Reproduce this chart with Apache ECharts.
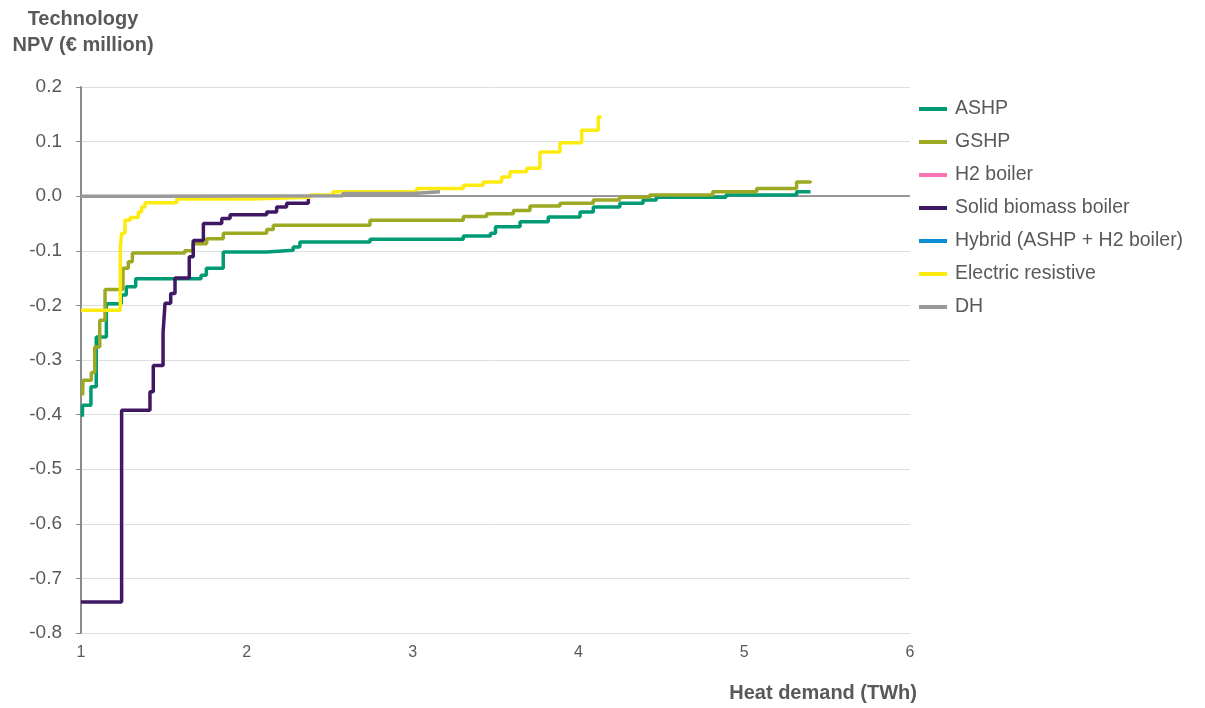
<!DOCTYPE html>
<html>
<head>
<meta charset="utf-8">
<script src="https://cdn.jsdelivr.net/npm/echarts@6/dist/echarts.min.js"></script>
<style>
  html, body { margin: 0; padding: 0; background: #fff; }
  #npvChart { width: 1205px; height: 708px; }
</style>
</head>
<body>
<div id="npvChart"></div>
<script>
  // step curves: [heat demand TWh, NPV € million]
  var ashp = [
    [1.008, -0.404], [1.01, -0.383], [1.06, -0.349], [1.092, -0.258], [1.153, -0.197],
    [1.243, -0.181], [1.273, -0.166], [1.33, -0.151], [1.724, -0.145], [1.756, -0.132],
    [1.858, -0.102], [2.12, -0.099], [2.28, -0.093], [2.32, -0.084], [2.743, -0.079],
    [3.306, -0.073], [3.47, -0.068], [3.5, -0.056], [3.648, -0.047], [3.818, -0.038],
    [4.01, -0.029], [4.09, -0.02], [4.25, -0.013], [4.39, -0.007], [4.47, -0.002],
    [4.89, 0.002], [5.316, 0.008], [5.4, 0.008]
  ]
  var gshp = [
    [1.01, -0.365], [1.012, -0.337], [1.062, -0.323], [1.083, -0.276], [1.113, -0.227],
    [1.145, -0.171], [1.253, -0.132], [1.285, -0.12], [1.31, -0.104], [1.625, -0.1],
    [1.675, -0.087], [1.758, -0.078], [1.858, -0.068], [2.12, -0.061], [2.16, -0.053],
    [2.743, -0.044], [3.306, -0.037], [3.447, -0.032], [3.608, -0.026], [3.708, -0.018],
    [3.889, -0.013], [4.09, -0.007], [4.248, -0.002], [4.43, 0.002], [4.81, 0.008],
    [5.075, 0.014], [5.316, 0.026], [5.4, 0.028]
  ]
  var h2Boiler = []
  var biomass = [
    [1.0, -0.743], [1.245, -0.392], [1.416, -0.358], [1.436, -0.31], [1.495, -0.25],
    [1.507, -0.196], [1.541, -0.178], [1.567, -0.15], [1.653, -0.111], [1.677, -0.081],
    [1.738, -0.05], [1.849, -0.041], [1.899, -0.034], [2.12, -0.029], [2.18, -0.02],
    [2.24, -0.013], [2.371, -0.006], [2.381, -0.006]
  ]
  var hybrid = []
  var electric = [
    [1.0, -0.209], [1.237, -0.093], [1.245, -0.068], [1.265, -0.044], [1.296, -0.039],
    [1.346, -0.029], [1.366, -0.02], [1.386, -0.012], [1.577, -0.005], [2.019, -0.002],
    [2.381, 0.002], [2.52, 0.008], [3.025, 0.014], [3.306, 0.02], [3.426, 0.026],
    [3.537, 0.035], [3.587, 0.045], [3.688, 0.051], [3.768, 0.081], [3.889, 0.098],
    [4.02, 0.121], [4.12, 0.145], [4.14, 0.145]
  ]
  var dh = [
    [1.0, 0.0], [1.43, 0.001], [2.58, 0.005], [3.0, 0.008], [3.165, 0.008]
  ]

  var names = ['ASHP', 'GSHP', 'H2 boiler', 'Solid biomass boiler', 'Hybrid (ASHP + H2 boiler)', 'Electric resistive', 'DH']
  var colors = ['#009A74', '#9DA823', '#F873B3', '#401763', '#0A8FD4', '#FDEB0F', '#999999']
  var seriesData = [ashp, gshp, h2Boiler, biomass, hybrid, electric, dh]

  var textColor = '#595959'
  var font = 'Liberation Sans, Arial, sans-serif'

  var chart = echarts.init(document.getElementById('npvChart'))

  var series = []
  for (let i = 0; i < names.length; i++) {
    let s = {
      name: names[i],
      type: 'line',
      step: 'end',
      showSymbol: false,
      symbol: 'none',
      color: colors[i],
      lineStyle: { width: 3.5, color: colors[i] },
      data: seriesData[i]
    }
    if (names[i] === 'DH') {
      // horizontal line at NPV = 0
      s.markLine = {
        silent: true,
        symbol: 'none',
        label: { show: false },
        lineStyle: { color: '#7a7a7a', width: 1.5, type: 'solid' },
        data: [{ yAxis: 0 }],
        z: 1
      }
    }
    series.push(s)
  }

  var option = {
    animation: false,
    textStyle: { fontFamily: font },
    title: [{
      text: 'Technology\nNPV (€ million)',
      left: 78,
      top: 1,
      textAlign: 'center',
      textStyle: { fontSize: 20, fontWeight: 'bold', color: textColor, lineHeight: 26, fontFamily: font }
    }, {
      text: 'Heat demand (TWh)',
      right: 283,
      top: 678,
      textStyle: { fontSize: 20, fontWeight: 'bold', color: textColor, fontFamily: font }
    }],
    legend: {
      orient: 'vertical',
      left: 914,
      top: 94,
      itemGap: 13,
      icon: 'rect',
      itemWidth: 28,
      itemHeight: 4,
      textStyle: { fontSize: 19.5, color: textColor, fontFamily: font, padding: [0, 0, 0, 3] },
      data: names
    },
    grid: { left: 81, right: 295, top: 87, bottom: 75, containLabel: false },
    xAxis: {
      type: 'value',
      min: 1,
      max: 6,
      interval: 1,
      axisLine: { show: false, onZero: false },
      axisTick: { show: false },
      splitLine: { show: false },
      axisLabel: { fontSize: 16, color: textColor, margin: 12 }
    },
    yAxis: {
      type: 'value',
      min: -0.8,
      max: 0.2,
      interval: 0.1,
      axisLine: { show: true, lineStyle: { color: '#8c8c8c', width: 2 } },
      axisTick: { show: true, length: 5, lineStyle: { color: '#8c8c8c', width: 1 } },
      splitLine: { show: true, lineStyle: { color: '#dedede', width: 1 } },
      axisLabel: {
        fontSize: 19,
        color: textColor,
        margin: 19,
        formatter: function (v) { return (Math.round(v * 10) / 10).toFixed(1) }
      }
    },
    series: series
  }
  chart.setOption(option)
</script>
</body>
</html>
